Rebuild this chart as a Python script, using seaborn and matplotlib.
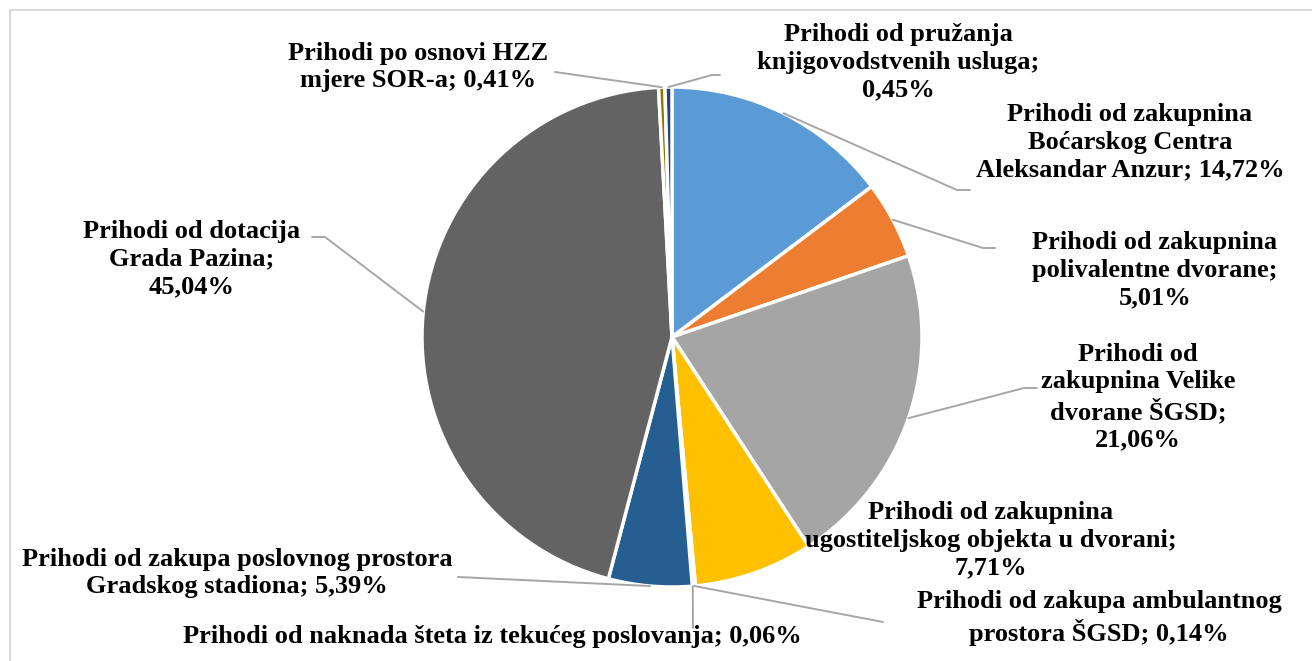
import numpy as np
import matplotlib
matplotlib.use("Agg")
import matplotlib.pyplot as plt
import seaborn as sns

# slices in drawing order (clockwise from 12 o'clock)
labels = [
    "Prihodi od zakupnina\nBoćarskog Centra\nAleksandar Anzur; 14,72%",
    "Prihodi od zakupnina\npolivalentne dvorane;\n5,01%",
    "Prihodi od\nzakupnina Velike\ndvorane ŠGSD;\n21,06%",
    "Prihodi od zakupnina\nugostiteljskog objekta u dvorani;\n7,71%",
    "Prihodi od zakupa ambulantnog\nprostora ŠGSD; 0,14%",
    "Prihodi od naknada šteta iz tekućeg poslovanja; 0,06%",
    "Prihodi od zakupa poslovnog prostora\nGradskog stadiona; 5,39%",
    "Prihodi od dotacija\nGrada Pazina;\n45,04%",
    "Prihodi po osnovi HZZ\nmjere SOR-a; 0,41%",
    "Prihodi od pružanja\nknjigovodstvenih usluga;\n0,45%",
]
shares = [14.72, 5.01, 21.06, 7.71, 0.14, 0.06, 5.39, 45.04, 0.41, 0.45]
colors = ["#5B9BD5", "#ED7D31", "#A5A5A5", "#FFC000", "#4472C4",
          "#70AD47", "#255E91", "#636363", "#997300", "#264478"]

# label centres and leader elbows (pixel-like coords, y from top)
label_pos = [(1130, 142), (1155, 270), (1138, 397), (991, 540), (1099, 618),
             (492, 637), (237, 573), (192, 259), (418, 67), (898, 62)]
elbows = [[(957, 190), (970, 190)],
          [(983, 248), (995, 248)],
          [(1024, 388), (1037, 388)],
          None,
          [(883, 622)],
          [(693, 628)],
          [(458, 577)],
          [(325, 237), (312, 237)],
          [(555, 72)],
          [(712, 75), (720, 75)]]

W, H = 1312, 661
cx, cy, r = 672, 337, 250

sns.set_theme(style="white")
plt.rcParams["font.family"] = ["Liberation Serif", "DejaVu Serif"]

fig = plt.figure(figsize=(W / 100, H / 100), dpi=100)
ax = fig.add_axes([0, 0, 1, 1])

ax.pie(shares, colors=colors, startangle=90, counterclock=False,
       center=(cx, H - cy), radius=r,
       wedgeprops=dict(edgecolor="white", linewidth=2.5))
ax.set_xlim(0, W)
ax.set_ylim(0, H)
ax.set_aspect("equal")
ax.axis("off")

# border of the chart area
ax.plot([10, 10, W + 5], [-5, H - 10, H - 10], color="#D9D9D9", lw=1.5,
        clip_on=False)

total = sum(shares)
cum = np.cumsum([0] + shares[:-1])
for i, lab in enumerate(labels):
    mid = (cum[i] + shares[i] / 2) / total * 360
    ang = np.deg2rad(90 - mid)
    ex, ey = cx + r * np.cos(ang), cy - r * np.sin(ang)
    if elbows[i] is not None:
        pts = [(ex, ey)] + elbows[i]
        ax.plot([p[0] for p in pts], [H - p[1] for p in pts],
                color="#A6A6A6", lw=1.4, zorder=1)
    lx, ly = label_pos[i]
    ax.text(lx, H - ly, lab, ha="center", va="center", multialignment="center",
            fontsize=19, fontweight="bold", color="black", linespacing=1.25)

fig.savefig("out.png", dpi=100, facecolor="white")
